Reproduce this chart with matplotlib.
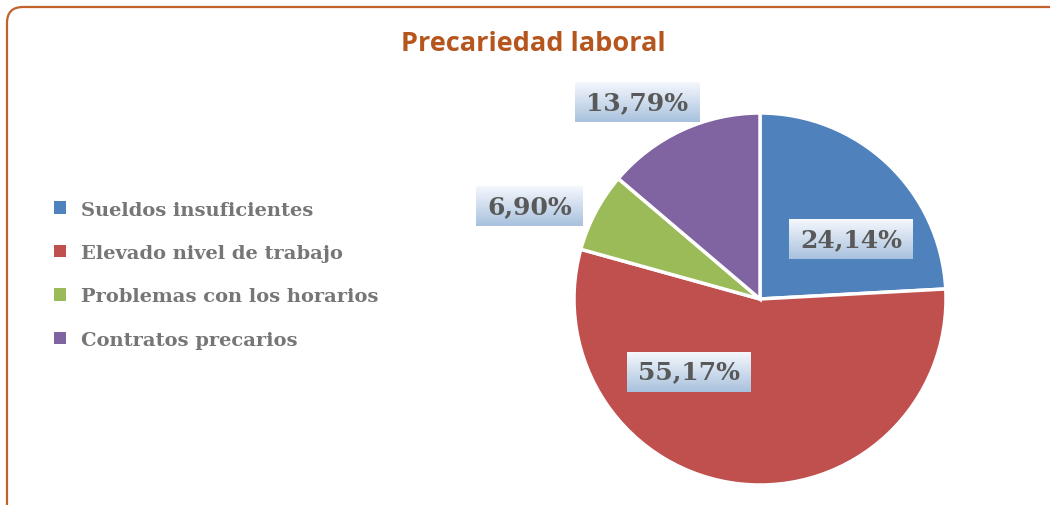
import matplotlib.pyplot as plt
import numpy as np
from matplotlib.patches import FancyBboxPatch, Patch

categorias = ['Sueldos insuficientes', 'Elevado nivel de trabajo',
              'Problemas con los horarios', 'Contratos precarios']
valores = [24.14, 55.17, 6.90, 13.79]
etiquetas = ['24,14%', '55,17%', '6,90%', '13,79%']
colores = ['#4f81bd', '#c0504d', '#9bbb59', '#8064a2']
# label centres (pie data coords)
pos_etiquetas = [(0.49, 0.32), (-0.38, -0.39), (-1.24, 0.50), (-0.66, 1.06)]

W, H = 1050, 506
fig = plt.figure(figsize=(W / 100, H / 100), dpi=100)
fig.patch.set_facecolor('white')

# marco redondeado (sale por la derecha y por abajo)
marco = FancyBboxPatch((0.07, -1.0), 12, (H - 8) / 100 + 1.0,
                       boxstyle='round,pad=0,rounding_size=0.16',
                       transform=fig.dpi_scale_trans, facecolor='none',
                       edgecolor='#c0622a', linewidth=1.6)
fig.patches.append(marco)

fig.text(533 / W, 1 - 44 / H, 'Precariedad laboral', ha='center', va='center',
         fontsize=19.5, fontweight='bold', color='#b5561f', family='Open Sans')

# pie
cx, cy, r = 760, 300, 186
ax = fig.add_axes([(cx - r) / W, (H - cy - r) / H, 2 * r / W, 2 * r / H])
wedges, _ = ax.pie(valores, colors=colores, startangle=90, counterclock=False,
                   radius=1, wedgeprops=dict(edgecolor='white', linewidth=2.5))
ax.set_xlim(-1, 1)
ax.set_ylim(-1, 1)
ax.set_aspect('auto')
ax.axis('off')

textos = []
for txt, (x, y) in zip(etiquetas, pos_etiquetas):
    t = ax.text(x, y, txt, ha='center', va='center', fontsize=18,
                fontweight='bold', color='#595959', family='DejaVu Serif',
                zorder=5, clip_on=False)
    textos.append(t)

fig.canvas.draw()
grad = np.linspace(0, 1, 64).reshape(-1, 1)
c_top = np.array([0.96, 0.97, 0.99])
c_bot = np.array([0.66, 0.76, 0.87])
img = (c_top[None, None, :] * (1 - grad[..., None]) + c_bot[None, None, :] * grad[..., None])
inv = ax.transData.inverted()
for t in textos:
    bb = t.get_window_extent()
    xm = (bb.x0 + bb.x1) / 2
    ym = (bb.y0 + bb.y1) / 2
    w = bb.width + 22
    h = 40
    (x0, y0) = inv.transform((xm - w / 2, ym - h / 2))
    (x1, y1) = inv.transform((xm + w / 2, ym + h / 2))
    ax.imshow(img, extent=[x0, x1, y0, y1], origin='upper', aspect='auto',
              zorder=4, clip_on=False)
ax.set_xlim(-1, 1)
ax.set_ylim(-1, 1)

handles = [Patch(facecolor=c, edgecolor='none') for c in colores]
leg = fig.legend(handles, categorias, loc='upper left',
                 bbox_to_anchor=(36 / W, 1 - 184 / H), frameon=False,
                 prop={'family': 'DejaVu Serif', 'weight': 'bold', 'size': 14},
                 handlelength=0.62, handleheight=0.62, handletextpad=0.8,
                 labelspacing=1.31)
for tx in leg.get_texts():
    tx.set_color('#767676')

fig.savefig('out.png', dpi=100, facecolor='white')
